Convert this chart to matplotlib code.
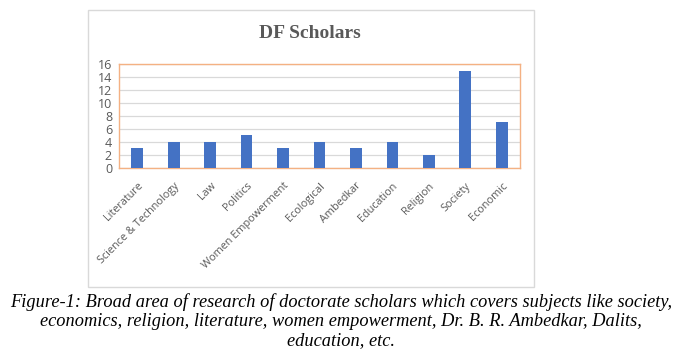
import matplotlib.pyplot as plt
from matplotlib.patches import Rectangle

# data
subjects = ['Literature', 'Science & Technology', 'Law', 'Politics', 'Women Empowerment',
            'Ecological', 'Ambedkar', 'Education', 'Religion', 'Society', 'Economic']
scholars = [3, 4, 4, 5, 3, 4, 3, 4, 2, 15, 7]
y_ticks = [0, 2, 4, 6, 8, 10, 12, 14, 16]

W, H = 685, 358
fig = plt.figure(figsize=(W / 100, H / 100), dpi=100)

# outer chart frame
fig.patches.append(Rectangle((88 / W, 1 - 287 / H), 446 / W, 277 / H,
                             transform=fig.transFigure, fill=False,
                             edgecolor='#D9D9D9', linewidth=1.0))

ax = fig.add_axes([119 / W, 1 - 168 / H, 401 / W, 104 / H])
x = range(len(subjects))
ax.bar(x, scholars, width=0.32, color='#4472C4', zorder=3)
ax.set_xlim(-0.5, len(subjects) - 0.5)
ax.set_ylim(0, 16)
ax.set_yticks(y_ticks)
ax.yaxis.grid(True, color='#D9D9D9', linewidth=0.9, zorder=0)
ax.set_axisbelow(True)
for s in ax.spines.values():
    s.set_color('#F4B183')
    s.set_linewidth(1.0)
ax.tick_params(axis='y', length=0, pad=5, colors='#595959')
ax.tick_params(axis='x', length=0, pad=9, colors='#595959')
ax.set_yticklabels([str(v) for v in y_ticks], fontsize=9, family='Open Sans', color='#595959')
ax.set_xticks(list(x))
ax.set_xticklabels(subjects, rotation=45, ha='right', rotation_mode='anchor',
                   fontsize=7.8, family='Open Sans', color='#595959')

fig.text(310 / W, 1 - 33 / H, 'DF Scholars', ha='center', va='center',
         fontsize=14, fontweight='bold', family='Liberation Serif', color='#595959')

caption = ('Figure-1: Broad area of research of doctorate scholars which covers subjects like society,\n'
           'economics, religion, literature, women empowerment, Dr. B. R. Ambedkar, Dalits,\n'
           'education, etc.')
fig.text(341 / W, 1 - 321 / H, caption, ha='center', va='center', fontsize=13.2,
         style='italic', family='Liberation Serif', color='black', linespacing=1.17)

fig.savefig('out.png', dpi=100)
